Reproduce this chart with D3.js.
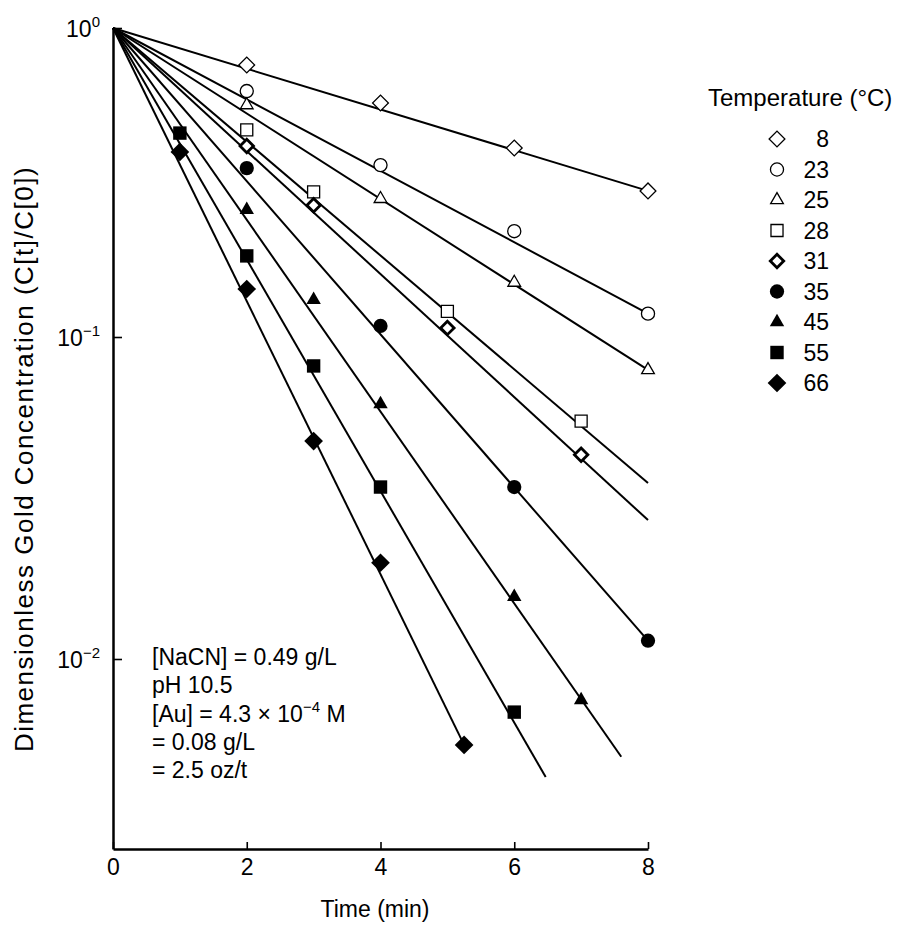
<!DOCTYPE html>
<html>
<head>
<meta charset="utf-8">
<script src="https://cdn.jsdelivr.net/npm/d3@7"></script>
<style>
  html, body { margin: 0; padding: 0; background: #fff; }
  svg { display: block; font-family: "Liberation Sans", Arial, Helvetica, sans-serif; }
</style>
</head>
<body>
<svg id="chart" width="897" height="928"></svg>
<script>
// Leaching temperature series (°C)
const temperatures = [8, 23, 25, 28, 31, 35, 45, 55, 66];

// Sampling times (min) per series
const sampleTimes = [
  [2, 4, 6, 8],
  [2, 4, 6, 8],
  [2, 4, 6, 8],
  [2, 3, 5, 7],
  [2, 3, 5, 7],
  [2, 4, 6, 8],
  [2, 3, 4, 6, 7],
  [1, 2, 3, 4, 6],
  [1, 2, 3, 4, 5.25]
];

// Dimensionless gold concentration C(t)/C(0) per series
const concentrations = [
  [0.759, 0.572, 0.409, 0.297],
  [0.625, 0.360, 0.220, 0.119],
  [0.563, 0.280, 0.150, 0.079],
  [0.468, 0.295, 0.121, 0.0548],
  [0.415, 0.267, 0.107, 0.0431],
  [0.352, 0.1086, 0.0342, 0.0114],
  [0.258, 0.132, 0.0619, 0.0156, 0.00746],
  [0.457, 0.183, 0.0813, 0.0342, 0.00684],
  [0.397, 0.143, 0.0475, 0.0199, 0.00541]
];

// First-order fit lines: all start at (0, 1) and run to these end points
const fitStartTime = 0;
const fitStartConc = 1;
const fitEndTime = [8, 8, 8, 8, 8, 8, 7.6, 6.47, 5.25];
const fitEndConc = [0.297, 0.119, 0.079, 0.0352, 0.0270, 0.0114, 0.00497, 0.0043, 0.00541];

// Axis ticks
const xTicks = [0, 2, 4, 6, 8];
const yTicks = [1, 0.1, 0.01];
const yTickExponents = ["0", "\u22121", "\u22122"];

// Conditions printed inside the plot
const conditionLines = [
  ["[NaCN] = 0.49 g/L"],
  ["pH 10.5"],
  ["[Au] = 4.3 \u00d7 10", "\u22124", " M"],
  ["= 0.08 g/L"],
  ["= 2.5 oz/t"]
];

// Marker appearance for each series
const markerStyle = [
  { shape: "diamond", size: 125, fill: "#fff", stroke: 1.3 },
  { shape: "circle", size: 135, fill: "#fff", stroke: 1.3 },
  { shape: "triangle", size: 70, fill: "#fff", stroke: 1.3 },
  { shape: "square", size: 145, fill: "#fff", stroke: 1.3 },
  { shape: "diamond", size: 90, fill: "#fff", stroke: 2.8 },
  { shape: "circle", size: 160, fill: "#000", stroke: 0 },
  { shape: "triangle", size: 90, fill: "#000", stroke: 0 },
  { shape: "square", size: 180, fill: "#000", stroke: 0 },
  { shape: "diamond", size: 175, fill: "#000", stroke: 0 }
];

const FONT = "Liberation Sans, Arial, sans-serif";
const svg = d3.select("#chart");
const plotLeft = 113, plotRight = 648, plotTop = 28, plotBottom = 849;

const x = d3.scaleLinear().domain([0, 8]).range([plotLeft, plotRight]);
// log axis; decade breakpoints as printed on the scale
const y = d3.scaleLog()
  .domain([1, 0.1, 0.01, 0.00257])
  .range([plotTop, 337, 659, plotBottom]);

function symbolPath(st) {
  const type = st.shape === "circle" ? d3.symbolCircle
    : st.shape === "triangle" ? d3.symbolTriangle
    : d3.symbolSquare;
  return d3.symbol().type(type).size(st.size)();
}
function symbolTransform(st, px, py) {
  return `translate(${px},${py})` + (st.shape === "diamond" ? " rotate(45)" : "");
}

// fit lines
const line = d3.line().x(d => x(d[0])).y(d => y(d[1]));
svg.append("g").selectAll("path")
  .data(temperatures.map((t, i) => [[fitStartTime, fitStartConc], [fitEndTime[i], fitEndConc[i]]]))
  .join("path")
  .attr("d", line)
  .attr("fill", "none")
  .attr("stroke", "#000")
  .attr("stroke-width", 2);

// data markers
temperatures.forEach((t, i) => {
  const st = markerStyle[i];
  svg.append("g").selectAll("path")
    .data(sampleTimes[i].map((tm, j) => [tm, concentrations[i][j]]))
    .join("path")
    .attr("d", symbolPath(st))
    .attr("transform", d => symbolTransform(st, x(d[0]), y(d[1])))
    .attr("fill", st.fill)
    .attr("stroke", "#000")
    .attr("stroke-width", st.stroke);
});

// x axis
const xAxis = svg.append("g")
  .attr("transform", `translate(0,${plotBottom})`)
  .call(d3.axisBottom(x).tickValues(xTicks).tickSizeInner(-7).tickSizeOuter(0).tickPadding(10));
xAxis.select(".domain").attr("stroke-width", 2.5);
xAxis.selectAll(".tick line").attr("stroke-width", 1.6);
xAxis.selectAll(".tick text").attr("font-size", 23).attr("fill", "#000")
  .attr("font-family", FONT);

// y axis
const yAxis = svg.append("g")
  .attr("transform", `translate(${plotLeft},0)`)
  .call(d3.axisLeft(y).tickValues(yTicks).tickSizeInner(-9).tickSizeOuter(0).tickFormat(""));
yAxis.select(".domain").attr("stroke-width", 2.5);
yAxis.selectAll(".tick line").attr("stroke-width", 1.6);
yAxis.selectAll(".tick").each(function(d, i) {
  const txt = d3.select(this).append("text")
    .attr("x", -13).attr("y", 8)
    .attr("text-anchor", "end")
    .attr("fill", "#000")
    .attr("font-size", 23)
    .attr("font-family", FONT);
  txt.append("tspan").text("10");
  txt.append("tspan").attr("dy", -10).attr("font-size", 15).text(yTickExponents[i]);
});

// axis titles
svg.append("text")
  .attr("x", 375).attr("y", 917)
  .attr("text-anchor", "middle").attr("font-size", 23)
  .text("Time (min)");
svg.append("text")
  .attr("transform", `translate(33,459) rotate(-90)`)
  .attr("text-anchor", "middle").attr("font-size", 26)
  .attr("letter-spacing", 1.5)
  .text("Dimensionless Gold Concentration (C[t]/C[0])");

// conditions block
const cond = svg.append("g");
conditionLines.forEach((parts, i) => {
  const t = cond.append("text")
    .attr("x", 152).attr("y", 665 + i * 28.3)
    .attr("font-size", 23);
  t.append("tspan").text(parts[0]);
  if (parts.length > 1) {
    t.append("tspan").attr("dy", -10).attr("font-size", 15).text(parts[1]);
    t.append("tspan").attr("dy", 10).text(parts[2]);
  }
});

// legend
const legend = svg.append("g");
legend.append("text")
  .attr("x", 708).attr("y", 106)
  .attr("font-size", 24)
  .text("Temperature (\u00b0C)");
temperatures.forEach((t, i) => {
  const st = markerStyle[i];
  const ly = 139 + i * 30.5;
  legend.append("path")
    .attr("d", symbolPath(st))
    .attr("transform", symbolTransform(st, 777, ly))
    .attr("fill", st.fill)
    .attr("stroke", "#000")
    .attr("stroke-width", st.stroke);
  legend.append("text")
    .attr("x", 829).attr("y", ly + 8)
    .attr("text-anchor", "end")
    .attr("font-size", 23)
    .text(t);
});
</script>
</body>
</html>
